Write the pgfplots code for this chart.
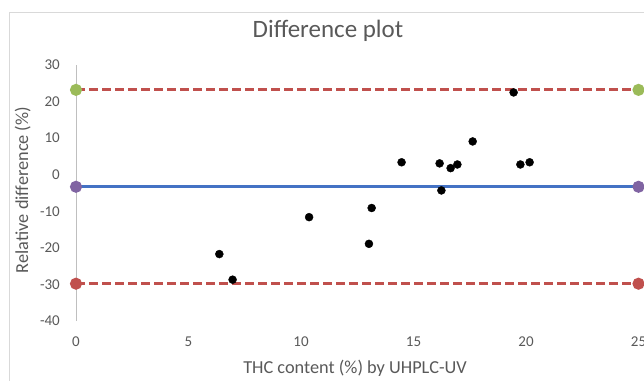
\documentclass[border=0pt]{standalone}
\usepackage{pgfplots}
\pgfplotsset{compat=1.18}
\usepackage{fontspec}
\setmainfont{Carlito}
\definecolor{exred}{RGB}{192,80,77}
\definecolor{exblue}{RGB}{68,114,196}
\definecolor{exgreen}{RGB}{155,187,89}
\definecolor{expurple}{RGB}{128,100,162}
\definecolor{txtgray}{RGB}{89,89,89}
\definecolor{axgray}{RGB}{191,191,191}
\definecolor{framegray}{RGB}{217,217,217}
\begin{document}
\begin{tikzpicture}
\path[use as bounding box] (0,0) rectangle (644pt,380pt);
\draw[framegray, line width=1pt] (9pt,-5pt) -- (9pt,367pt) -- (660pt,367pt);
\node[txtgray, font=\fontsize{25}{30}\selectfont] at (328pt,349pt) {Difference plot};
\begin{axis}[
  scale only axis,
  width=562.5pt, height=256pt,
  at={(76pt,59pt)}, anchor=south west,
  xmin=0, xmax=25, ymin=-40, ymax=30,
  clip=false,
  axis lines*=left,
  x axis line style={draw=none},
  y axis line style={axgray, line width=1pt},
  major tick length=0pt,
  xtick={0,5,...,25},
  ytick={-40,-30,...,30},
  /pgf/number format/assume math mode=true,
  tick label style={txtgray, font=\fontsize{15}{18}\selectfont},
  yticklabel style={anchor=east, inner sep=0pt, xshift=-16pt},
  xticklabel style={anchor=center, inner sep=0pt, yshift=-21pt},
  label style={txtgray, font=\fontsize{18.3}{22}\selectfont},
  xlabel={THC content (\%) by UHPLC-UV},
  ylabel={Relative difference (\%)},
  xlabel style={at={(axis description cs:0.496,-0.184)}, anchor=center},
  ylabel style={at={(axis description cs:-0.0948,0.512)}, anchor=center},
]
\addplot[exblue, line width=3pt, mark=*, mark size=4.5pt, mark options={solid, fill=expurple, draw=expurple}]
  coordinates {(0,-3.3) (25,-3.3)};
\addplot[exred, line width=3pt, dash pattern=on 9pt off 4pt, mark=*, mark size=4.5pt, mark options={solid, fill=exgreen, draw=exgreen}]
  coordinates {(0,23.2) (25,23.2)};
\addplot[exred, line width=3pt, dash pattern=on 9pt off 4pt, mark=*, mark size=4.5pt, mark options={solid, fill=exred, draw=exred}]
  coordinates {(0,-29.8) (25,-29.8)};
\addplot[only marks, mark=*, mark size=4pt, black] coordinates {
  (6.37,-21.7) (6.96,-28.7) (10.36,-11.6) (13.02,-18.9) (13.14,-9.1)
  (14.47,3.4) (16.16,3.1) (16.24,-4.3) (16.65,1.8) (16.95,2.8)
  (17.63,9.1) (19.45,22.5) (19.75,2.8) (20.16,3.4)
};
\end{axis}
\end{tikzpicture}
\end{document}
